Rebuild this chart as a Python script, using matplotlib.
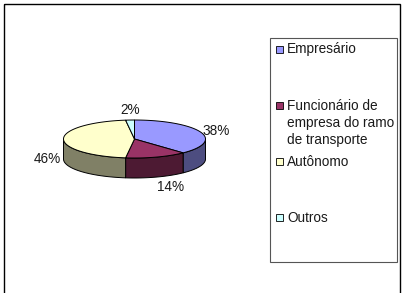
import numpy as np
import matplotlib
matplotlib.use("Agg")
import matplotlib.pyplot as plt
from matplotlib.patches import Polygon, Rectangle

# data
categories = ["Empresário", "Funcionário de\nempresa do ramo\nde transporte", "Autônomo", "Outros"]
values = [38, 14, 46, 2]
top_colors = ["#9999FF", "#993366", "#FFFFCC", "#CCFFFF"]

plt.rcParams['font.family'] = ['Liberation Sans', 'DejaVu Sans']

W, H = 405, 293
fig = plt.figure(figsize=(W / 100, H / 100), dpi=100)
ax = fig.add_axes([0, 0, 1, 1])
ax.set_xlim(0, W)
ax.set_ylim(H, 0)
ax.axis("off")

# outer frame
ax.add_patch(Rectangle((4, 4), 396, 300, fill=False, ec="black", lw=1.0, clip_on=False))

# pie geometry (pixels)
cx, cy, a, b, thick = 134.5, 139, 71, 19, 20


def pt(theta, dy=0.0):
    t = np.radians(theta)
    return cx + a * np.cos(t), cy - b * np.sin(t) + dy


def darker(c, f=0.5):
    r, g, bb = matplotlib.colors.to_rgb(c)
    return (r * f, g * f, bb * f)


fr = np.cumsum([0] + values) / float(sum(values))
starts = 90 - 360 * fr[:-1]
ends = 90 - 360 * fr[1:]

# side walls (front half only)
for s, e, c in zip(starts, ends, top_colors):
    lo, hi = max(e, -180), min(s, 0)
    if hi <= lo:
        continue
    th = np.linspace(hi, lo, 60)
    top = [pt(t) for t in th]
    bot = [pt(t, thick) for t in th[::-1]]
    ax.add_patch(Polygon(top + bot, closed=True, fc=darker(c), ec="black", lw=0.7))

# tops
for s, e, c in zip(starts, ends, top_colors):
    th = np.linspace(s, e, 100)
    poly = [(cx, cy)] + [pt(t) for t in th]
    ax.add_patch(Polygon(poly, closed=True, fc=c, ec="black", lw=0.7))

# percent labels
for s, e, v in zip(starts, ends, values):
    m = np.radians((s + e) / 2)
    co, si = np.cos(m), np.sin(m)
    x = cx + (a + 2) * co
    y = cy - (b + 3) * si
    if si <= 1e-6:
        y += thick
    ha = "left" if co > 0.2 else ("right" if co < -0.3 else "center")
    va = "top" if si < -0.5 else ("bottom" if si > 0.5 else "center")
    ax.text(x, y, "%d%%" % v, ha=ha, va=va, fontsize=9.8, color="#1a1a1a")

# legend
ax.add_patch(Rectangle((269.5, 37.5), 127, 224, fill=False, ec="#555555", lw=0.8))
for i, (lab, c) in enumerate(zip(categories, top_colors)):
    ty = 42.5 + i * 56.3
    ax.add_patch(Rectangle((275.5, ty + 3), 7, 7, fc=c, ec="black", lw=0.6))
    ax.text(287, ty, lab, ha="left", va="top", fontsize=9.8, linespacing=1.27, color="#1a1a1a")

fig.savefig("out.png", dpi=100, facecolor="white")
